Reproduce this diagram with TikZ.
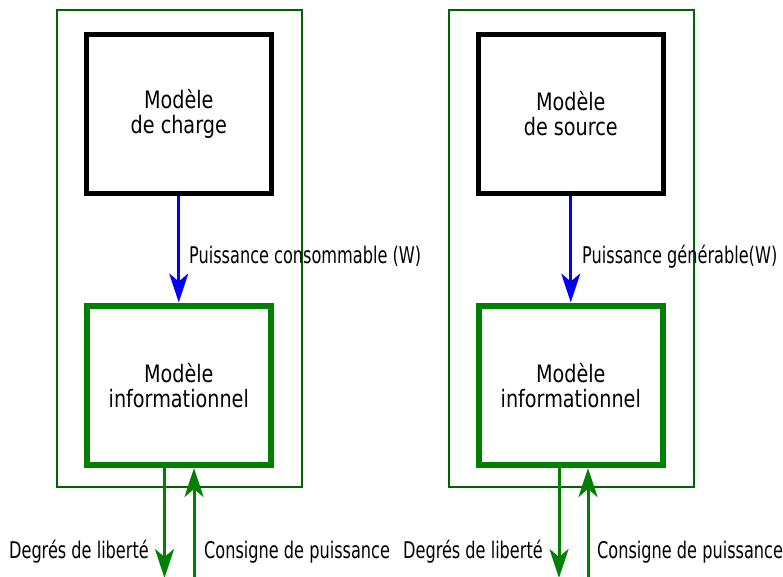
\documentclass[tikz,border=0pt]{standalone}
\usepackage{fontspec}
\setmainfont{DejaVu Sans}[FakeStretch=0.8]
\newfontfamily\labelfont{DejaVu Sans Condensed}[FakeStretch=0.78]
\usetikzlibrary{arrows.meta,positioning}
\definecolor{framegreen}{RGB}{0,100,0}
\definecolor{infogreen}{RGB}{0,128,0}
\tikzset{
	modelbox/.style={draw=black, line width=5pt, minimum width=184.5pt, minimum height=158.5pt,
		align=center, inner sep=0pt, font=\fontsize{24}{25}\selectfont},
	infobox/.style={modelbox, draw=infogreen, line width=6pt, minimum height=159.5pt},
	outerframe/.style={draw=framegreen, line width=2pt, minimum width=245.5pt, minimum height=476.5pt},
	flow/.style={line width=3pt, -{Stealth[length=29pt,width=19pt,inset=8pt]}},
	lbl/.style={font=\labelfont\fontsize{23}{25}\selectfont, inner sep=0pt},
}
\begin{document}
\begin{tikzpicture}[x=1pt,y=-1pt]
		\useasboundingbox (0,0) rectangle (783,576);
		
		% charge side
		\node[outerframe] (frameL) at (179.25,248.25) {};
		\node[modelbox] (charge) at (178.75,113.75) {Modèle\\de charge};
		\node[infobox] (infoL) at (178.75,385.25) {Modèle\\informationnel};
		\draw[flow, blue] (charge.south) -- (infoL.north);
		\node[lbl, anchor=base west] (powL) at (189,263) {Puissance consommable (W)};
		
		\coordinate (dofL) at (164.5,578);
		\coordinate (setL) at (194,578);
		\draw[flow, infogreen] (infoL.south -| dofL) -- (dofL);
		\draw[flow, infogreen] (setL) -- (infoL.south -| setL);
		\node[lbl, anchor=base east] (dofLtxt) at (149,558) {Degrés de liberté};
		\node[lbl, anchor=base west] (setLtxt) at (204,558) {Consigne de puissance};
		
		% source side
		\node[outerframe] (frameR) at (571.25,248.25) {};
		\node[modelbox] (source) at (570.75,113.75) {Modèle\\de source};
		\node[infobox] (infoR) at (570.75,385.25) {Modèle\\informationnel};
		\draw[flow, blue] (source.south) -- (infoR.north);
		\node[lbl, anchor=base west] (powR) at (582,263) {Puissance générable(W)};
		
		\coordinate (dofR) at (559,578);
		\coordinate (setR) at (588,578);
		\draw[flow, infogreen] (infoR.south -| dofR) -- (dofR);
		\draw[flow, infogreen] (setR) -- (infoR.south -| setR);
		\node[lbl, anchor=base east] (dofRtxt) at (543,558) {Degrés de liberté};
		\node[lbl, anchor=base west] (setRtxt) at (597,558) {Consigne de puissance};
	\end{tikzpicture}
\end{document}
